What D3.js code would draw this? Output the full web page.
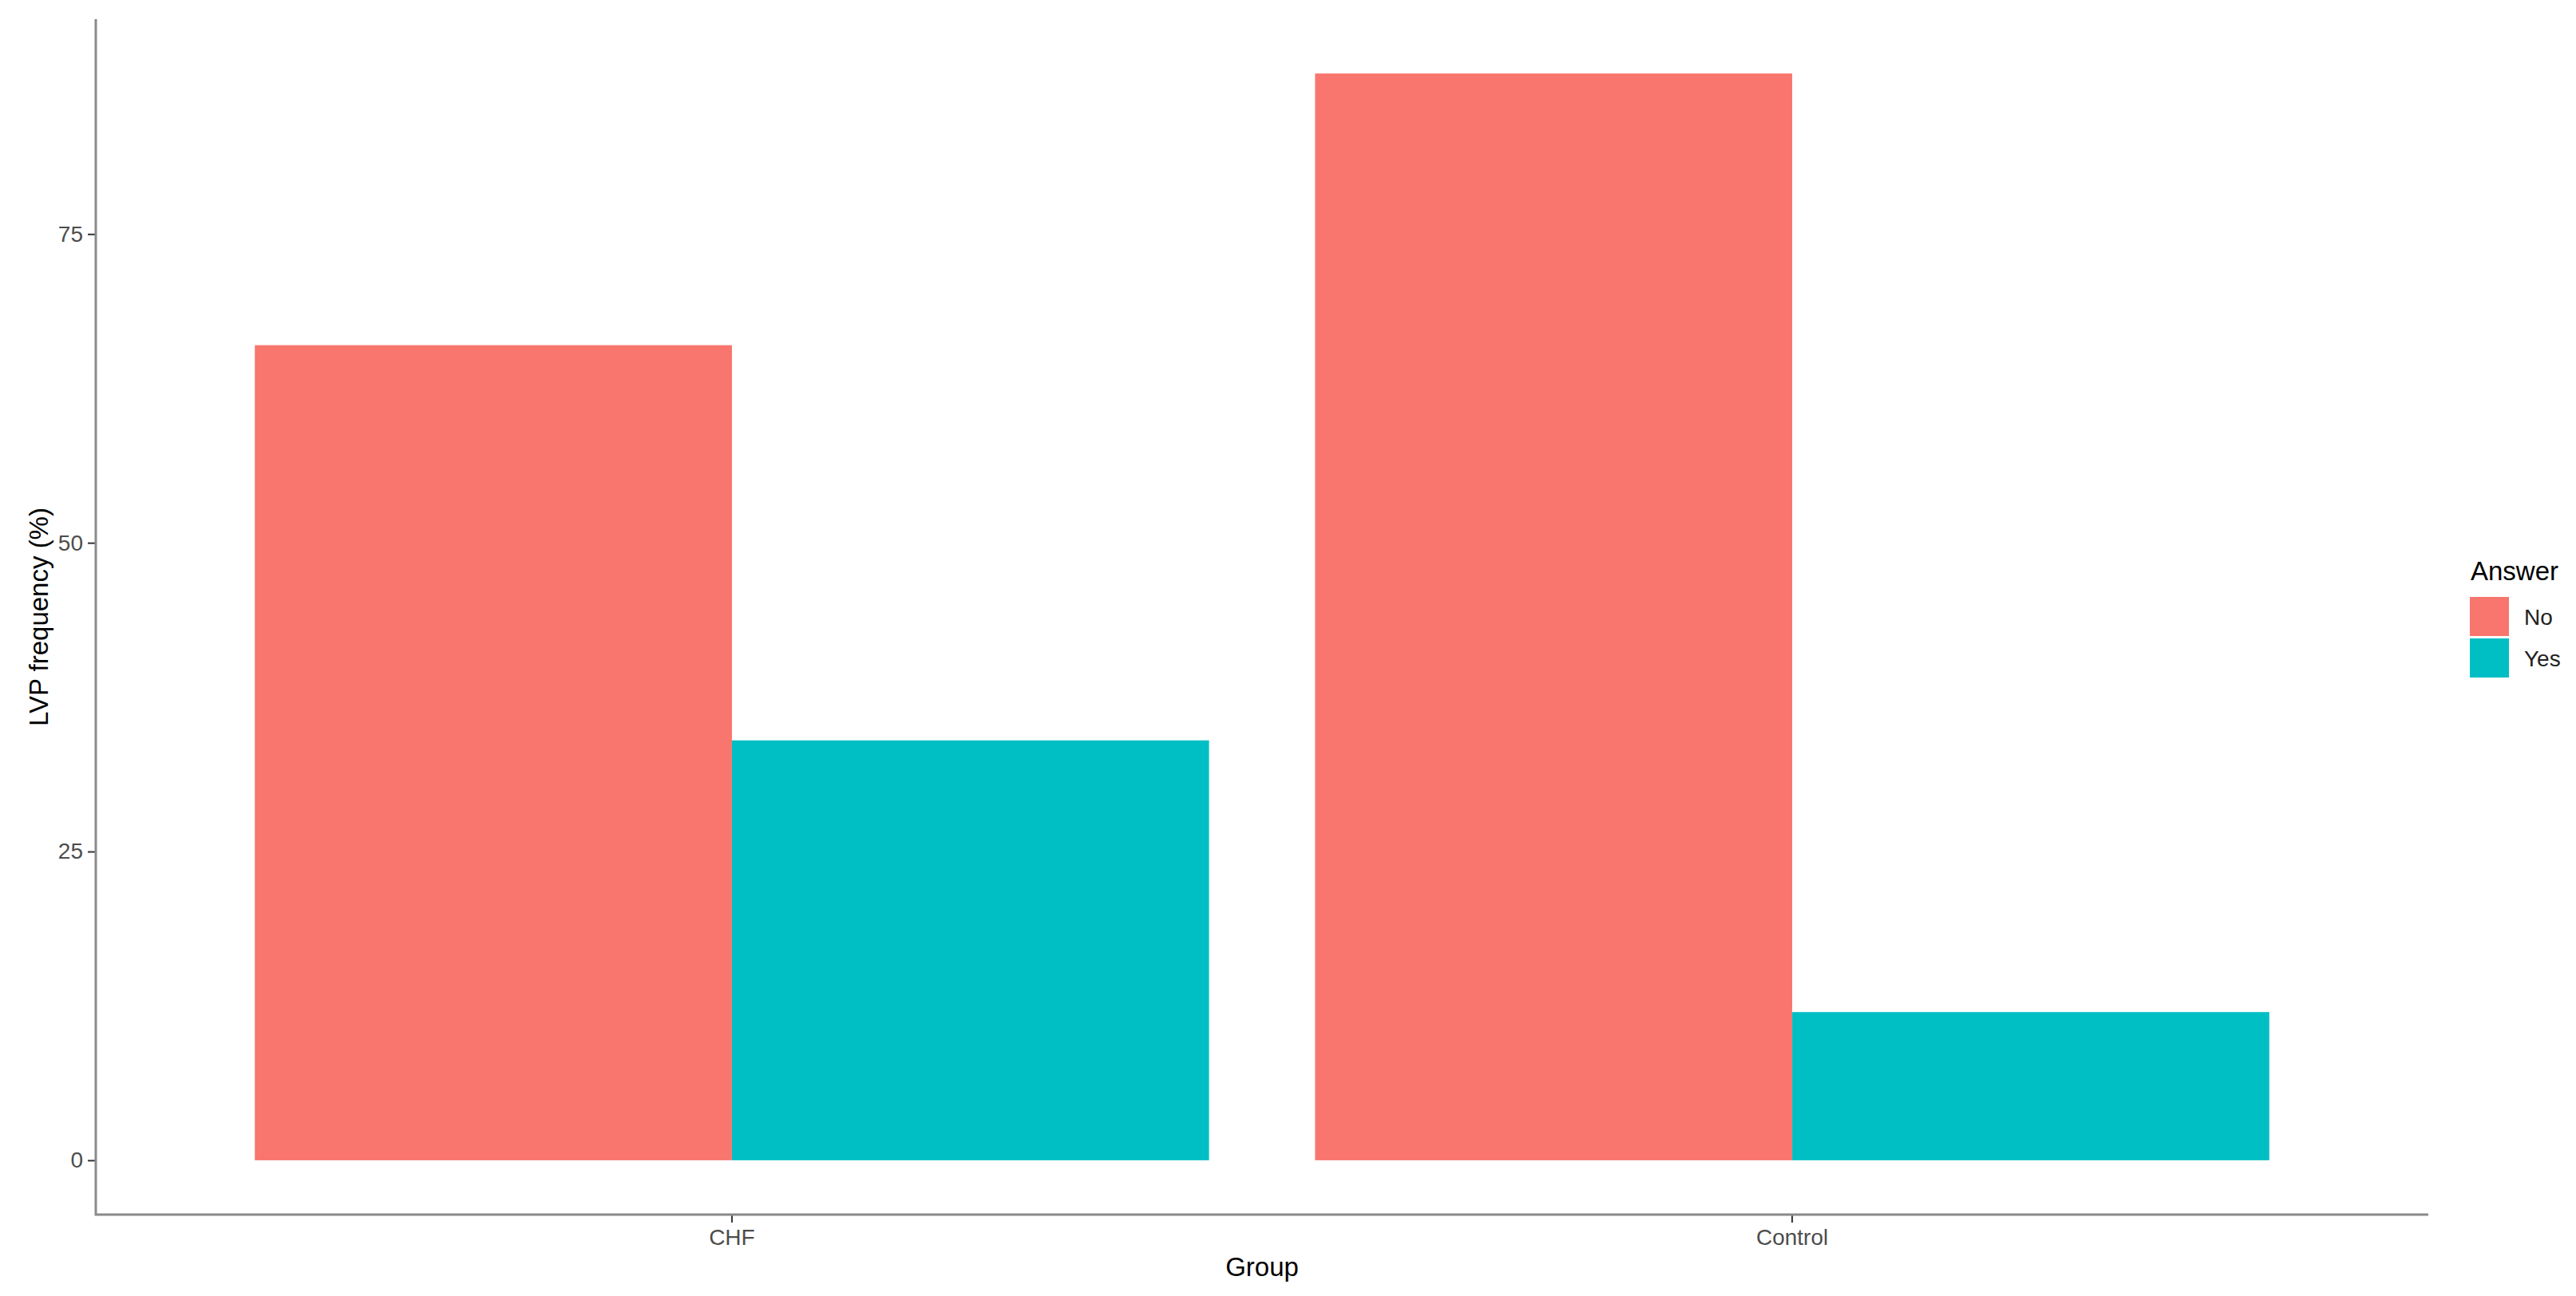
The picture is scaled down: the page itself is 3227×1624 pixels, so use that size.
<!DOCTYPE html>
<html>
<head>
<meta charset="utf-8">
<script src="https://cdn.jsdelivr.net/npm/d3@7"></script>
<style>
  html, body { margin: 0; padding: 0; background: #fff; }
  svg { display: block; font-family: "Liberation Sans", Arial, sans-serif; }
</style>
</head>
<body>
<svg id="chart" width="3227" height="1624"></svg>
<script>
// Data
const groups = ['CHF', 'Control'];
const answers = ['No', 'Yes'];
const noValues = [66, 88];
const yesValues = [34, 12];
const yTicks = [0, 25, 50, 75];
const colors = ['#F8766D', '#00BFC4'];

const data = groups.map((g, i) => ({ group: g, values: [
  { answer: 'No', value: noValues[i] },
  { answer: 'Yes', value: yesValues[i] }
] }));

const svg = d3.select('#chart');

// Panel bounds
const panel = { left: 120, right: 3042, top: 24, bottom: 1522 };

// X scale: groups
const x = d3.scaleBand()
  .domain(groups)
  .range([panel.left, panel.right])
  .paddingInner(0.1)
  .paddingOuter(0.15);

// Dodge scale within each group
const xSub = d3.scaleBand()
  .domain(answers)
  .range([0, x.bandwidth()]);

// Y scale with ggplot-style 5% expansion
const yMax = d3.max(noValues.concat(yesValues));
const pad = yMax * 0.05;
const y = d3.scaleLinear()
  .domain([-pad, yMax + pad])
  .range([panel.bottom, panel.top]);

const color = d3.scaleOrdinal().domain(answers).range(colors);

// Bars
const groupG = svg.append('g')
  .selectAll('g')
  .data(data)
  .join('g')
  .attr('transform', d => `translate(${x(d.group)},0)`);

groupG.selectAll('rect')
  .data(d => d.values)
  .join('rect')
  .attr('x', d => xSub(d.answer))
  .attr('width', xSub.bandwidth())
  .attr('y', d => y(d.value))
  .attr('height', d => y(0) - y(d.value))
  .attr('fill', d => color(d.answer));

// Y axis
const yAxis = svg.append('g')
  .attr('transform', `translate(${panel.left},0)`)
  .call(d3.axisLeft(y).tickValues(yTicks).tickSize(10).tickPadding(6));
yAxis.select('.domain').remove();
yAxis.selectAll('.tick line').attr('stroke', '#333').attr('stroke-width', 2);
yAxis.selectAll('.tick text')
  .attr('fill', '#4D4D4D')
  .style('font-size', '28px')
  .style('font-family', '"Liberation Sans", Arial, sans-serif');

// X axis
const xAxis = svg.append('g')
  .attr('transform', `translate(0,${panel.bottom})`)
  .call(d3.axisBottom(x).tickSize(10).tickPadding(8));
xAxis.select('.domain').remove();
xAxis.selectAll('.tick line').attr('stroke', '#333').attr('stroke-width', 2);
xAxis.selectAll('.tick text')
  .attr('fill', '#4D4D4D')
  .style('font-size', '28px')
  .style('font-family', '"Liberation Sans", Arial, sans-serif');

// Axis lines (classic theme)
svg.append('path')
  .attr('d', `M${panel.left},${panel.top}V${panel.bottom}H${panel.right}`)
  .attr('fill', 'none')
  .attr('stroke', '#8a8a8a')
  .attr('stroke-width', 3);

// Axis titles
svg.append('text')
  .attr('x', (panel.left + panel.right) / 2)
  .attr('y', 1599)
  .attr('text-anchor', 'middle')
  .style('font-size', '33px')
  .text('Group');

svg.append('text')
  .attr('transform', `translate(60,${(panel.top + panel.bottom) / 2}) rotate(-90)`)
  .attr('text-anchor', 'middle')
  .style('font-size', '33px')
  .text('LVP frequency (%)');

// Legend
const legend = svg.append('g').attr('transform', 'translate(3093,727)');
legend.append('text')
  .attr('x', 2)
  .attr('y', 0)
  .style('font-size', '33px')
  .text('Answer');

const keys = legend.selectAll('g.key')
  .data(answers)
  .join('g')
  .attr('class', 'key')
  .attr('transform', (d, i) => `translate(0,${20 + i * 52})`);

keys.append('rect')
  .attr('width', 51)
  .attr('height', 51)
  .attr('fill', d => color(d))
  .attr('stroke', '#fff')
  .attr('stroke-width', 2);

keys.append('text')
  .attr('x', 69)
  .attr('y', 36)
  .attr('fill', '#222')
  .style('font-size', '28px')
  .text(d => d);
</script>
</body>
</html>
